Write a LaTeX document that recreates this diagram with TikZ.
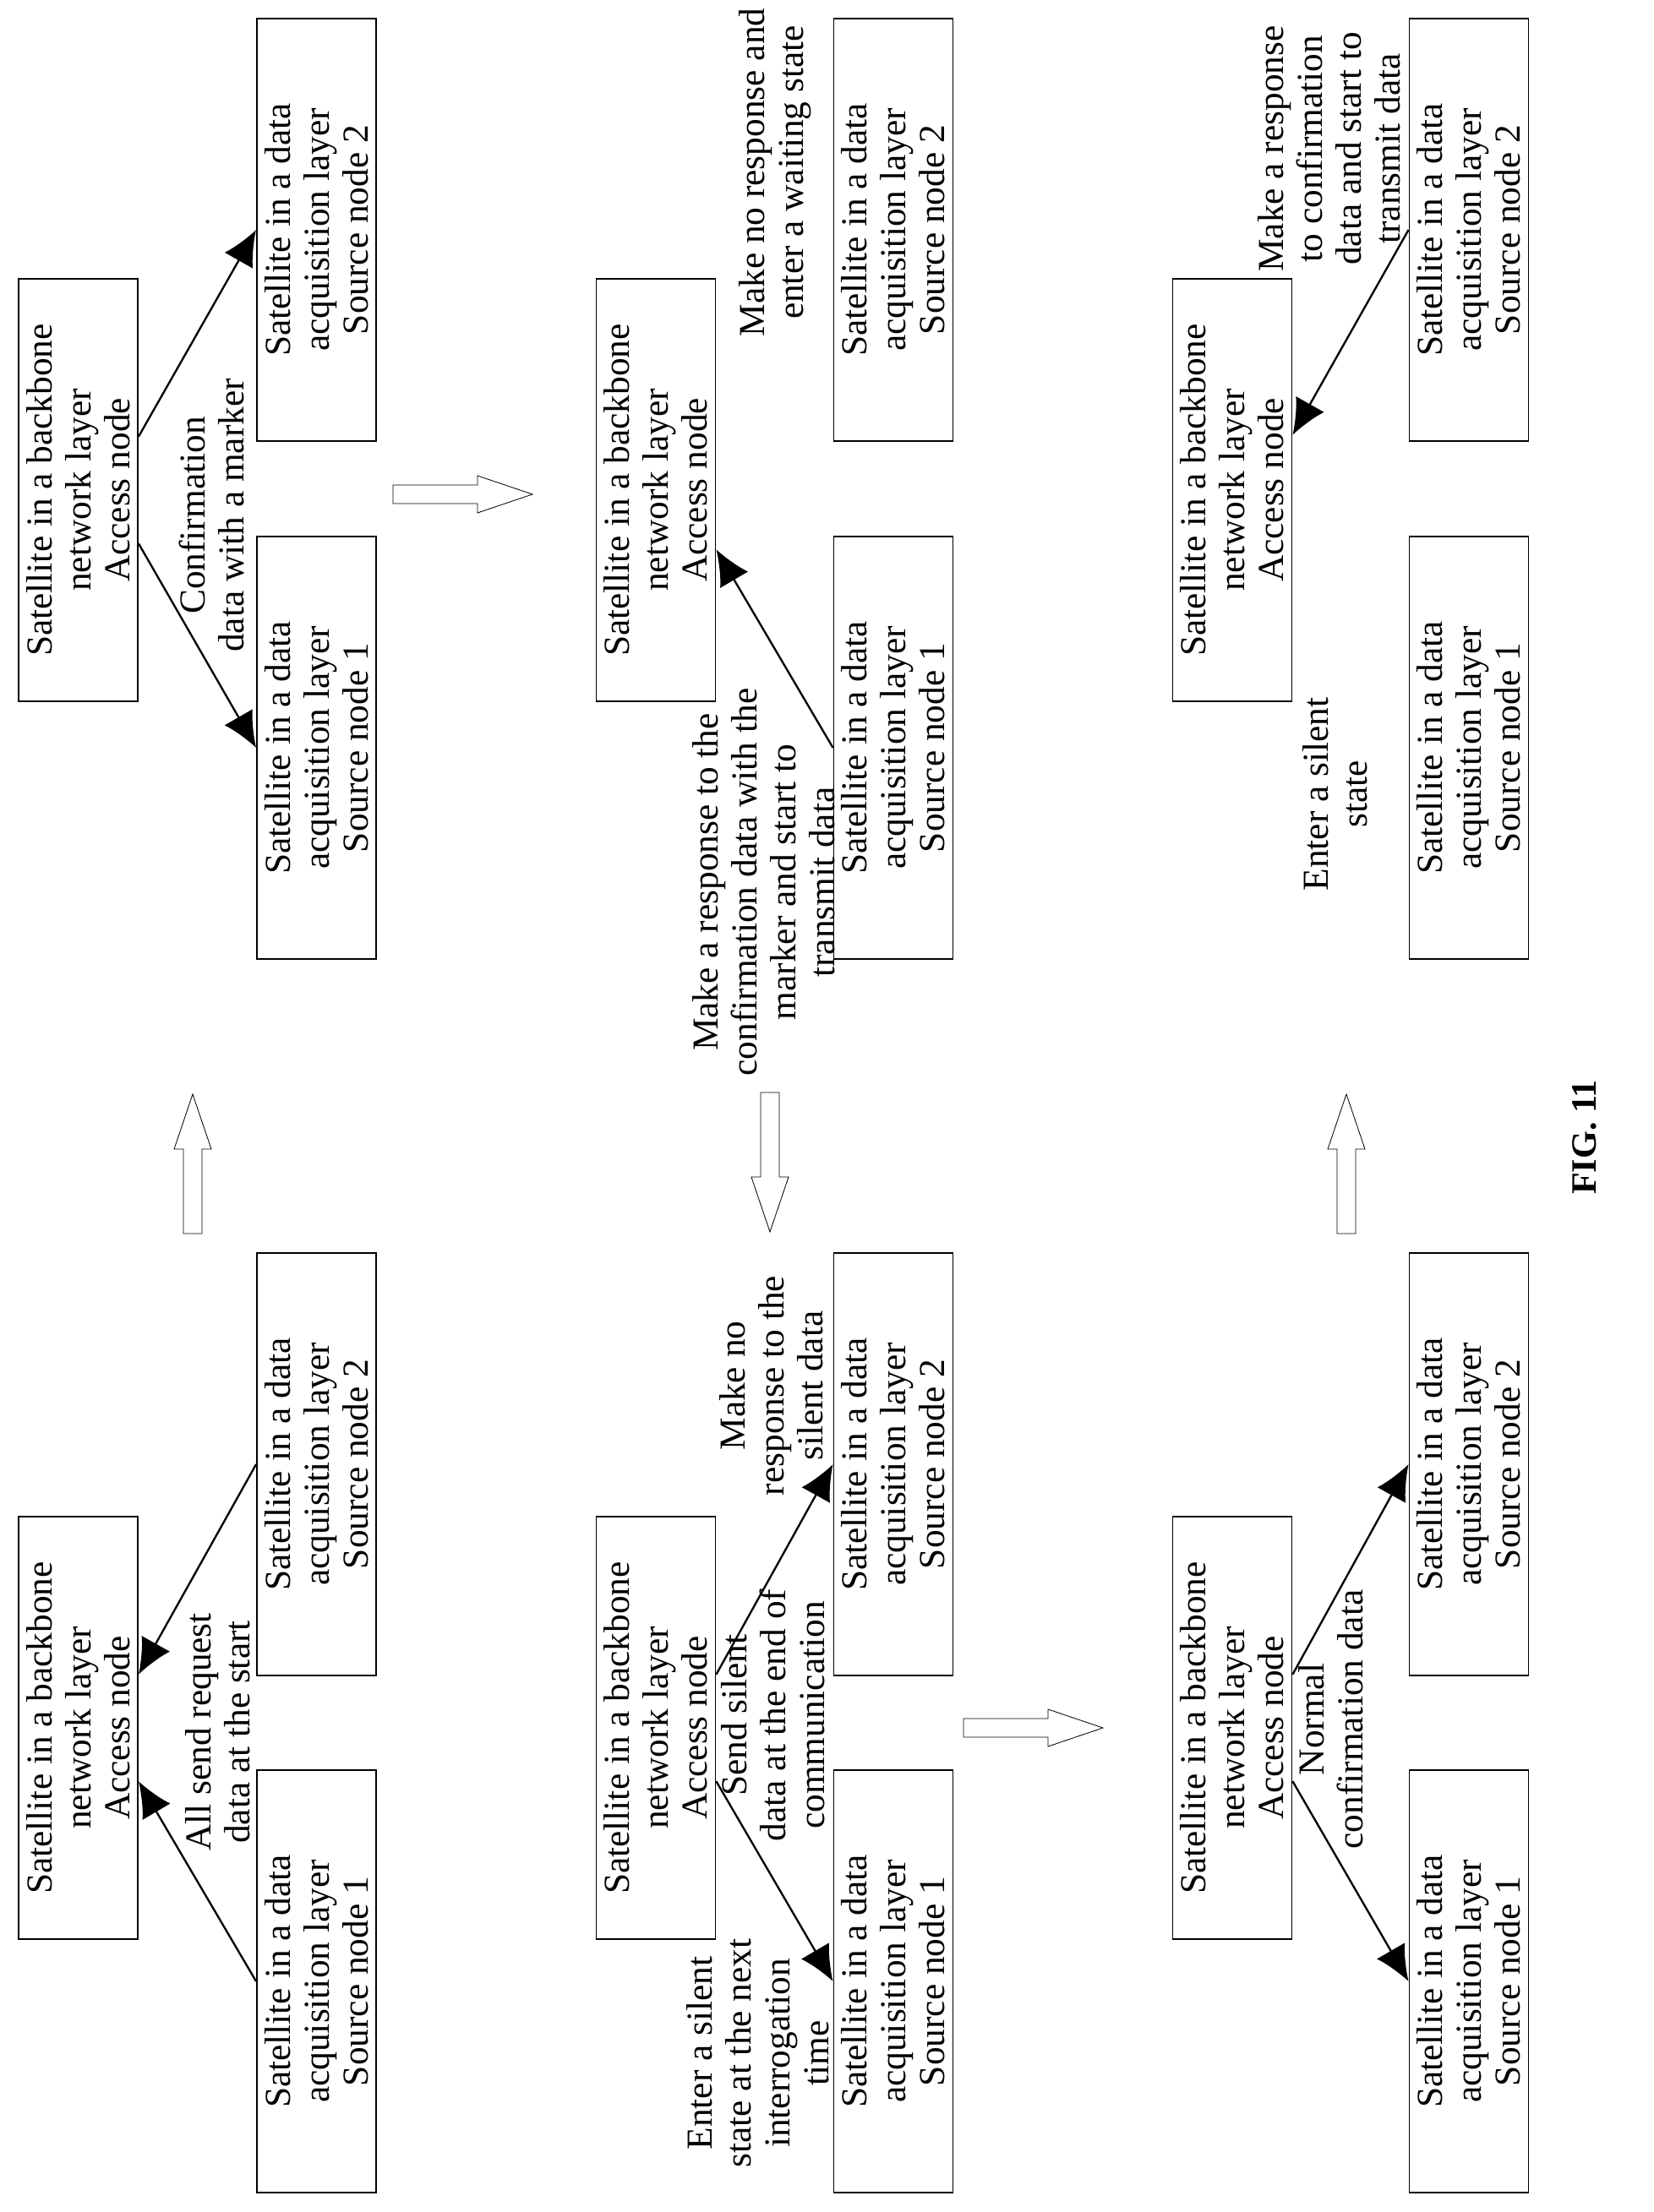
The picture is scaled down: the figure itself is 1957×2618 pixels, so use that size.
\documentclass[tikz,border=0pt]{standalone}
\usepackage{fontspec}
\setmainfont{Liberation Serif}
\usetikzlibrary{arrows.meta,calc}
\begin{document}
\begin{tikzpicture}[x=0.03cm,y=-0.03cm,
  box/.style={draw,line width=1.6pt,rotate=90,minimum width=15cm,minimum height=4.23cm,inner sep=0pt,align=center,font=\fontsize{37}{39.3}\selectfont},
  lbl/.style={rotate=90,align=center,inner sep=0pt,font=\fontsize{37}{39.3}\selectfont},
  arr/.style={line width=2pt,-{Latex[length=1.25cm,width=1.15cm]}},
  harrow/.pic={\draw[line width=0.7pt] (0,-11)--(100,-11)--(100,-22)--(165,0)--(100,22)--(100,11)--(0,11)--cycle;}]
\useasboundingbox (0,0) rectangle (1957,2618);
\def\acc{Satellite in a backbone\\network layer\\Access node}
\def\srcA{Satellite in a data\\acquisition layer\\Source node 1}
\def\srcB{Satellite in a data\\acquisition layer\\Source node 2}
% row 1
\node[box] (a11) at (92.5,2045) {\acc};
\node[box] (s111) at (374.5,2345) {\srcA};
\node[box] (s211) at (374.5,1733) {\srcB};
\node[box] (a12) at (92.5,580) {\acc};
\node[box] (s112) at (374.5,885) {\srcA};
\node[box] (s212) at (374.5,272) {\srcB};
% row 2
\node[box] (a21) at (776,2045) {\acc};
\node[box] (s121) at (1057,2345) {\srcA};
\node[box] (s221) at (1057,1733) {\srcB};
\node[box] (a22) at (776,580) {\acc};
\node[box] (s122) at (1057,885) {\srcA};
\node[box] (s222) at (1057,272) {\srcB};
% row 3
\node[box] (a31) at (1458,2045) {\acc};
\node[box] (s131) at (1738,2345) {\srcA};
\node[box] (s231) at (1738,1733) {\srcB};
\node[box] (a32) at (1458,580) {\acc};
\node[box] (s132) at (1738,885) {\srcA};
\node[box] (s232) at (1738,272) {\srcB};
% connectors
\draw[arr] (s211.north) -- ($(a11.south west)!0.626!(a11.south east)$);
\draw[arr] (s111.north) -- ($(a11.south west)!0.374!(a11.south east)$);
\draw[arr] ($(a12.south west)!0.626!(a12.south east)$) -- (s212.north);
\draw[arr] ($(a12.south west)!0.374!(a12.south east)$) -- (s112.north);
\draw[arr] ($(a21.south west)!0.626!(a21.south east)$) -- (s221.north);
\draw[arr] ($(a21.south west)!0.374!(a21.south east)$) -- (s121.north);
\draw[arr] (s122.north) -- ($(a22.south west)!0.36!(a22.south east)$);
\draw[arr] ($(a31.south west)!0.626!(a31.south east)$) -- (s231.north);
\draw[arr] ($(a31.south west)!0.374!(a31.south east)$) -- (s131.north);
\draw[arr] (s232.north) -- ($(a32.south west)!0.63!(a32.south east)$);
% labels
\node[lbl] (l1) at (258,2050) {All send request\\data at the start};
\node[lbl] (l2) at (250,610) {Confirmation\\data with a marker};
\node[lbl] (l3) at (897,2430) {Enter a silent\\state at the next\\interrogation\\time};
\node[lbl] (l4) at (915,2030) {Send silent\\data at the end of\\communication};
\node[lbl] (l5) at (913,1640) {Make no\\response to the\\silent data};
\node[lbl] (l6) at (904,1044) {Make a response to the\\confirmation data with the\\marker and start to\\transmit data};
\node[lbl] (l7) at (917,204) {Make no response and\\enter a waiting state};
\node[lbl] (l8) at (1575,2035) {Normal\\confirmation data};
\node[lbl] (l9) at (1580,940) {Enter a silent\\state};
\node[lbl] (l10) at (1573,176) {Make a response\\to confirmation\\data and start to\\transmit data};
\node[rotate=90,font=\fontsize{36}{40}\selectfont\bfseries] (fig) at (1875,1346) {FIG. 11};
% transition arrows
\pic[rotate=90] at (228,1460) {harrow};
\pic[rotate=-90] at (911,1293) {harrow};
\pic[rotate=90] at (1593,1460) {harrow};
\pic at (465,585) {harrow};
\pic at (1140,2045) {harrow};
\end{tikzpicture}
\end{document}
